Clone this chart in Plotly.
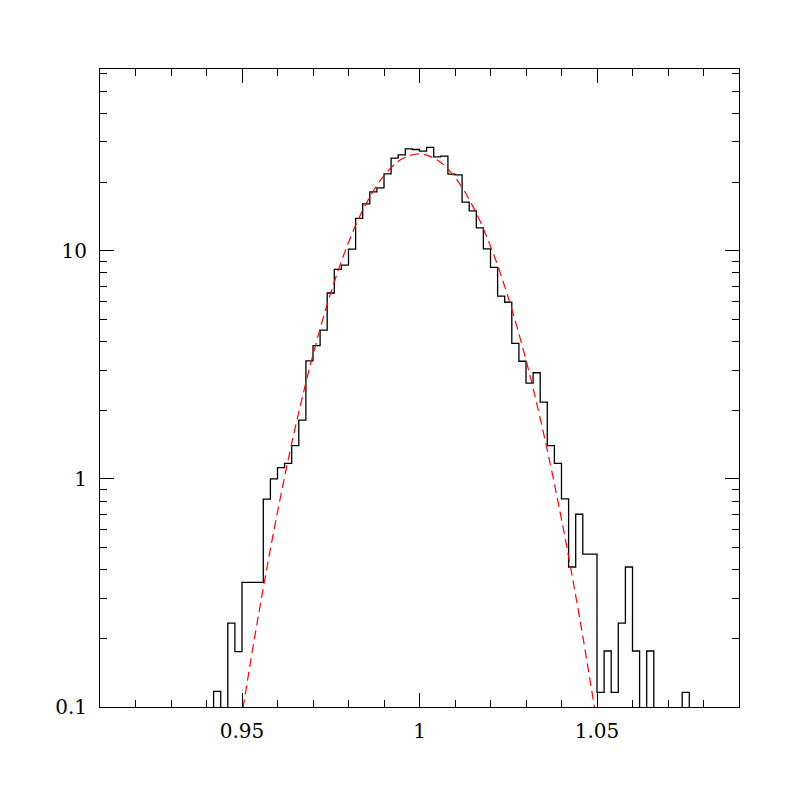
import plotly.graph_objects as go

# Histogram: bins of width 0.002 starting at 0.942 (value per bin, 0 = empty)
bin_start = 0.942
bin_width = 0.002
hist_values = [
    0.117, 0.0, 0.233, 0.175, 0.352, 0.352, 0.352, 0.816, 1.0, 1.12,
    1.17, 1.40, 1.81, 3.29, 3.84, 4.49, 6.53, 8.29, 8.66, 10.17,
    13.87, 16.07, 18.13, 18.88, 21.74, 25.47, 26.33, 28.0, 27.8, 27.33,
    28.38, 25.8, 25.98, 21.67, 21.52, 16.34, 14.97, 12.61, 10.2, 8.46,
    6.33, 5.95, 3.93, 3.28, 2.63, 2.92, 2.17, 1.40, 1.17, 0.817,
    0.411, 0.70, 0.468, 0.468, 0.116, 0.176, 0.116, 0.233, 0.411, 0.176,
    0.0, 0.176, 0.0, 0.0, 0.0, 0.0, 0.116,
]

fit_x = [0.945, 0.950, 0.955, 0.960, 0.965, 0.970, 0.975, 0.980, 0.985, 0.990,
         0.995, 1.000, 1.005, 1.010, 1.015, 1.020, 1.025, 1.030, 1.035, 1.040,
         1.045, 1.050, 1.055]
fit_y = [0.028, 0.0925, 0.272, 0.716, 1.677, 3.50, 6.53, 10.87, 16.13, 21.37,
         25.24, 26.6, 25.0, 20.98, 15.70, 10.48, 6.24, 3.32, 1.573, 0.665,
         0.251, 0.0845, 0.0254]

x_major = [0.95, 1.0, 1.05]
x_major_text = ["0.95", "1", "1.05"]
y_major = [0.1, 1, 10]
y_major_text = ["0.1", "1", "10"]

FLOOR = 0.01  # below axis range, stands for empty bins

# build step outline
n = len(hist_values)
edges = [bin_start + i * bin_width for i in range(n + 1)]
sx = [edges[0] - bin_width]
sy = [FLOOR]
for i, v in enumerate(hist_values):
    sx.append(edges[i])
    sy.append(v if v > 0 else FLOOR)
sx.append(edges[-1])
sy.append(FLOOR)

fig = go.Figure()
fig.add_trace(go.Scatter(
    x=sx, y=sy, mode="lines", line=dict(shape="hv", color="black", width=1.3),
    hoverinfo="skip", showlegend=False,
))
fig.add_trace(go.Scatter(
    x=fit_x, y=fit_y, mode="lines",
    line=dict(shape="spline", color="red", width=1.2, dash="9px,5px"),
    showlegend=False,
))

x_minor = [round(0.91 + 0.01 * k, 2) for k in range(1, 18)]
y_minor = ([d * 0.1 for d in range(2, 10)] + [d * 1.0 for d in range(2, 10)]
           + [d * 10.0 for d in range(2, 7)])

font = dict(family="DejaVu Serif", size=20, color="black")

fig.update_layout(
    width=806, height=806,
    margin=dict(l=92, r=75, t=61, b=107),
    paper_bgcolor="white", plot_bgcolor="white",
    xaxis=dict(
        range=[0.91, 1.09], showgrid=False, zeroline=False,
        tickmode="array", tickvals=x_major, ticktext=x_major_text,
        ticks="inside", ticklen=14, tickwidth=1, tickcolor="black",
        showline=True, linecolor="black", linewidth=1, mirror="ticks",
        tickfont=font, ticklabelstandoff=6,
        minor=dict(tickmode="array", tickvals=x_minor, ticks="inside",
                   ticklen=7, tickwidth=1, tickcolor="black", showgrid=False),
    ),
    yaxis=dict(
        type="log", range=[-1, 1.797], showgrid=False, zeroline=False,
        tickmode="array", tickvals=y_major, ticktext=y_major_text,
        ticks="inside", ticklen=14, tickwidth=1, tickcolor="black",
        showline=True, linecolor="black", linewidth=1, mirror="ticks",
        tickfont=font, ticklabelstandoff=8,
        minor=dict(tickmode="array", tickvals=y_minor, ticks="inside",
                   ticklen=7, tickwidth=1, tickcolor="black", showgrid=False),
    ),
)

fig.write_html("out.html")
